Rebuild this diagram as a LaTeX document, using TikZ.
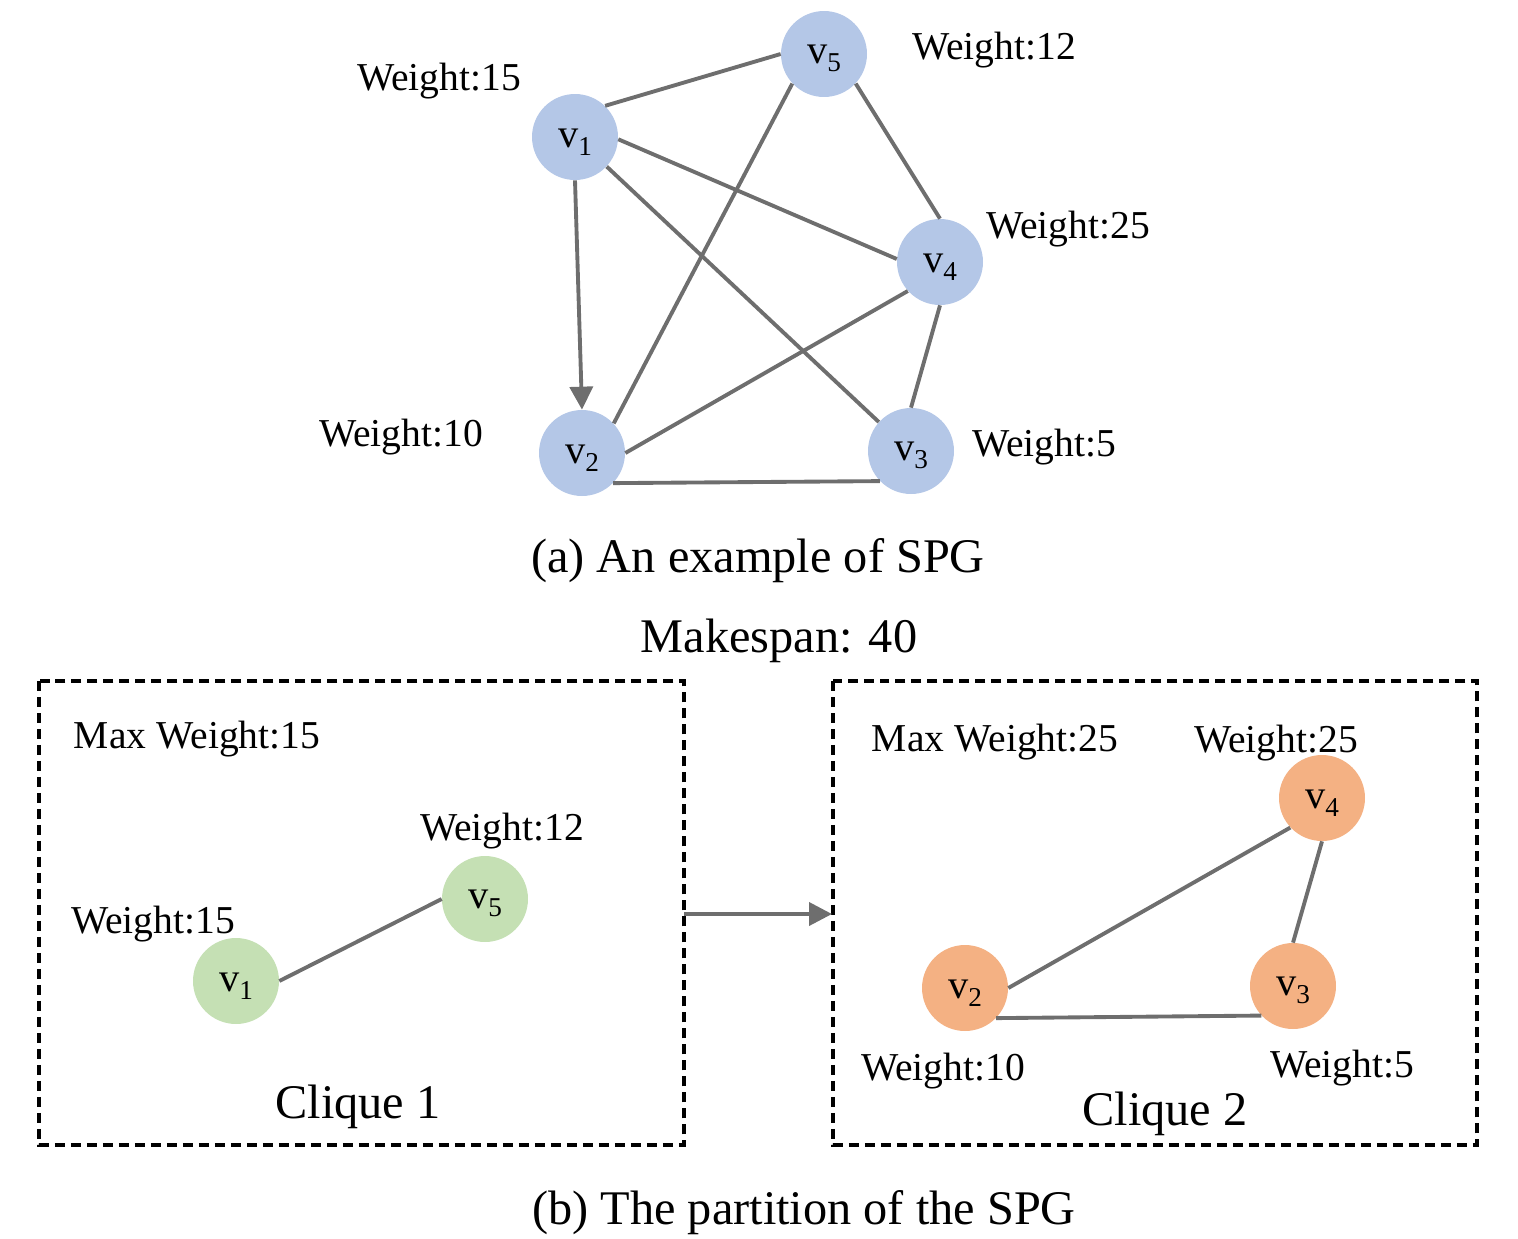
\documentclass[tikz,border=0pt]{standalone}
\usepackage{fontspec}
\setmainfont{Liberation Serif}
\usetikzlibrary{arrows.meta}
\definecolor{nblue}{HTML}{B4C7E7}
\definecolor{ngreen}{HTML}{C5E0B4}
\definecolor{norange}{HTML}{F4B183}
\definecolor{edgegray}{HTML}{6E6E6E}
\newcommand\vlab[1]{\rule{0pt}{16pt}v\raisebox{-4.5pt}{\fontsize{15.5}{15.5}\selectfont #1}}
\tikzset{
  vert/.style={circle, minimum size=1.72cm, inner sep=0pt, font=\fontsize{23}{25}\selectfont},
  bluev/.style={vert, fill=nblue},
  greenv/.style={vert, fill=ngreen},
  orangev/.style={vert, fill=norange},
  edge/.style={draw=edgegray, line width=2.2pt},
  arr/.style={edge, -{Triangle[length=0.46cm,width=0.46cm]}},
  wlab/.style={anchor=base, inner sep=0pt, font=\fontsize{22.5}{24}\selectfont},
  captext/.style={anchor=base, inner sep=0pt, font=\fontsize{27.5}{30}\selectfont},
  dbox/.style={draw=black, line width=2.2pt, dash pattern=on 0.2cm off 0.12cm}
}
\begin{document}
\begin{tikzpicture}[x=0.02cm, y=-0.02cm]
\useasboundingbox (0,0) rectangle (1518,1238);
% ---------- (a) ----------
\node[bluev] (a1) at (575,137) {\vlab{1}};
\node[bluev] (a5) at (824,54) {\vlab{5}};
\node[bluev] (a4) at (940,262) {\vlab{4}};
\node[bluev] (a2) at (582,453) {\vlab{2}};
\node[bluev] (a3) at (911,451) {\vlab{3}};
\draw[edge] (a1.46) -- (a5.180);
\draw[edge] (a1.-3) -- (a4.176);
\draw[edge] (a1.-43) -- (a3.138);
\draw[arr] (a1.270) -- (a2.90);
\draw[edge] (a5.223) -- (a2.43);
\draw[edge] (a5.-43) -- (a4.90);
\draw[edge] (a4.222) -- (a2.0);
\draw[edge] (a4.270) -- (a3.90);
\draw[edge] (a2.-44) -- (a3.224);
\node[wlab] (wa1) at (439,90) {Weight:15};
\node[wlab] (wa5) at (994,59) {Weight:12};
\node[wlab] (wa4) at (1068,238) {Weight:25};
\node[wlab] (wa2) at (401,446) {Weight:10};
\node[wlab] (wa3) at (1044,456) {Weight:5};
\node[captext] (capa) at (758,572) {(a) An example of SPG};
\node[captext] (mk) at (779,652) {Makespan: 40};
% ---------- (b) ----------
\draw[dbox] (39,681) rectangle (684,1145);
\draw[dbox] (833,681) rectangle (1477,1145);
\coordinate (bl) at (684,914);
\coordinate (br) at (832,914);
\draw[arr] (bl) -- (br);
% left clique
\node[greenv] (b5) at (485,899) {\vlab{5}};
\node[greenv] (b1) at (236,981) {\vlab{1}};
\draw[edge] (b1.0) -- (b5.180);
\node[wlab] (mw1) at (197,748) {Max Weight:15};
\node[wlab] (wb5) at (502,840) {Weight:12};
\node[wlab] (wb1) at (153,933) {Weight:15};
\node[captext] (cl1) at (358,1118) {Clique 1};
% right clique
\node[orangev] (c4) at (1322,798) {\vlab{4}};
\node[orangev] (c2) at (965,988) {\vlab{2}};
\node[orangev] (c3) at (1293,986) {\vlab{3}};
\draw[edge] (c4.223) -- (c2.0);
\draw[edge] (c4.270) -- (c3.90);
\draw[edge] (c2.-44) -- (c3.223);
\node[wlab] (mw2) at (995,751) {Max Weight:25};
\node[wlab] (wc4) at (1276,752) {Weight:25};
\node[wlab] (wc2) at (943,1080) {Weight:10};
\node[wlab] (wc3) at (1342,1077) {Weight:5};
\node[captext] (cl2) at (1165,1125) {Clique 2};
\node[captext] (capb) at (804,1224) {(b) The partition of the SPG};
\end{tikzpicture}
\end{document}
